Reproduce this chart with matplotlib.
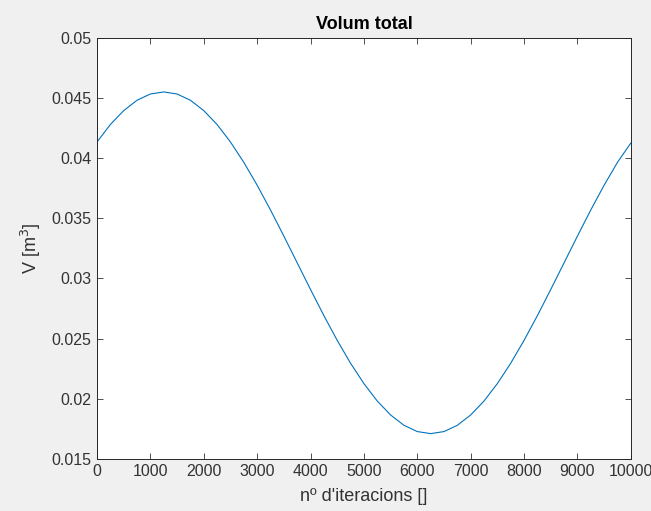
import matplotlib.pyplot as plt

# Values (every 250 iterations)
iterations = [
    0, 250, 500, 750, 1000, 1250, 1500, 1750, 2000, 2250,
    2500, 2750, 3000, 3250, 3500, 3750, 4000, 4250, 4500, 4750,
    5000, 5250, 5500, 5750, 6000, 6250, 6500, 6750, 7000, 7250,
    7500, 7750, 8000, 8250, 8500, 8750, 9000, 9250, 9500, 9750, 10000,
]
volume = [
    0.04134, 0.04279, 0.04395, 0.04481, 0.04533, 0.04550, 0.04533, 0.04481, 0.04395, 0.04279,
    0.04134, 0.03965, 0.03775, 0.03569, 0.03352, 0.03130, 0.02908, 0.02691, 0.02485, 0.02295,
    0.02126, 0.01981, 0.01865, 0.01779, 0.01727, 0.01710, 0.01727, 0.01779, 0.01865, 0.01981,
    0.02126, 0.02295, 0.02485, 0.02691, 0.02908, 0.03130, 0.03352, 0.03569, 0.03775, 0.03965,
    0.04125,
]
x_ticks = [0, 1000, 2000, 3000, 4000, 5000, 6000, 7000, 8000, 9000, 10000]
y_ticks = [0.015, 0.02, 0.025, 0.03, 0.035, 0.04, 0.045, 0.05]
y_tick_labels = ["0.015", "0.02", "0.025", "0.03", "0.035", "0.04", "0.045", "0.05"]

plt.rcParams["font.family"] = ["Liberation Sans", "DejaVu Sans"]

fig = plt.figure(figsize=(6.51, 5.11), dpi=100, facecolor="#f0f0f0")
ax = fig.add_axes([0.149, 0.102, 0.820, 0.824])

ax.plot(iterations, volume, color="#0072BD", linewidth=0.8)

ax.set_xlim(0, 10000)
ax.set_ylim(0.015, 0.05)
ax.set_xticks(x_ticks)
ax.set_xticklabels([str(t) for t in x_ticks])
ax.set_yticks(y_ticks)
ax.set_yticklabels(y_tick_labels)

ax.tick_params(
    direction="in", top=True, right=True, length=4, width=0.6,
    colors="#333333", labelsize=11.5, pad=4,
)
for spine in ax.spines.values():
    spine.set_color("#262626")
    spine.set_linewidth(0.7)

ax.set_title("Volum total", fontsize=13, fontweight="bold", color="black", pad=6)
ax.set_xlabel("nº d'iteracions []", fontsize=13, color="#333333", labelpad=6)
ax.set_ylabel("V [m$^3$]", fontsize=13, color="#333333", labelpad=6)

fig.savefig("out.png", dpi=100, facecolor=fig.get_facecolor())
